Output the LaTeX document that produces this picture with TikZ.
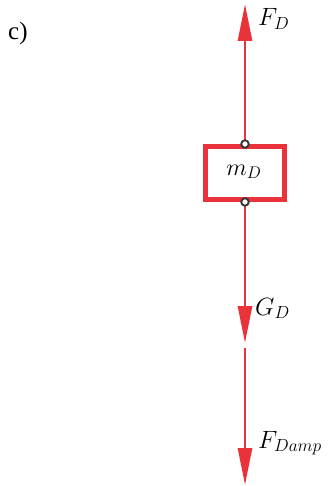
\RequirePackage{fix-cm}
\documentclass[tikz,border=0pt]{standalone}
\usepackage{fontspec}
\newfontfamily\timesfont{Liberation Serif}
\usetikzlibrary{arrows.meta}
\definecolor{fred}{RGB}{234,50,58}
\definecolor{dotgray}{RGB}{55,55,55}
\tikzset{
  force/.style={draw=fred, line width=2.8pt, -{Triangle[width=14pt,length=37pt]}},
  massbox/.style={draw=fred, line width=5pt, fill=white, minimum width=79pt, minimum height=53pt, inner sep=0pt},
  pin/.style={circle, draw=dotgray, line width=1.9pt, fill=white, minimum size=7.5pt, inner sep=0pt},
  lbl/.style={inner sep=0pt, font=\fontsize{25}{30}\selectfont},
}
\begin{document}
\begin{tikzpicture}[x=1pt,y=-1pt]
\useasboundingbox (0,0) rectangle (329,486);
\node[inner sep=0pt, font=\fontsize{25}{30}\selectfont, anchor=base west] (c) at (8,40) {\timesfont c)};
\node[massbox] (box) at (245,173) {};
\node[lbl, font=\fontsize{24}{28}\selectfont] (m) at (244,172) {$m_D$};
\coordinate (top) at (245,4);
\coordinate (mid) at (245,343);
\coordinate (gs) at (245,348);
\coordinate (bot) at (245,485);
\draw[force] (box.north) -- (top);
\draw[force] (box.south) -- (mid);
\draw[force] (gs) -- (bot);
\node[pin] (pt) at (box.north) {};
\node[pin] (pb) at (box.south) {};
\node[lbl, anchor=base west] (fd) at (258,26) {$F_D$};
\node[lbl, anchor=base west] (gd) at (255,315) {$G_D$};
\node[lbl, anchor=base west] (fdamp) at (258,448) {$F_{Damp}$};
\end{tikzpicture}
\end{document}
